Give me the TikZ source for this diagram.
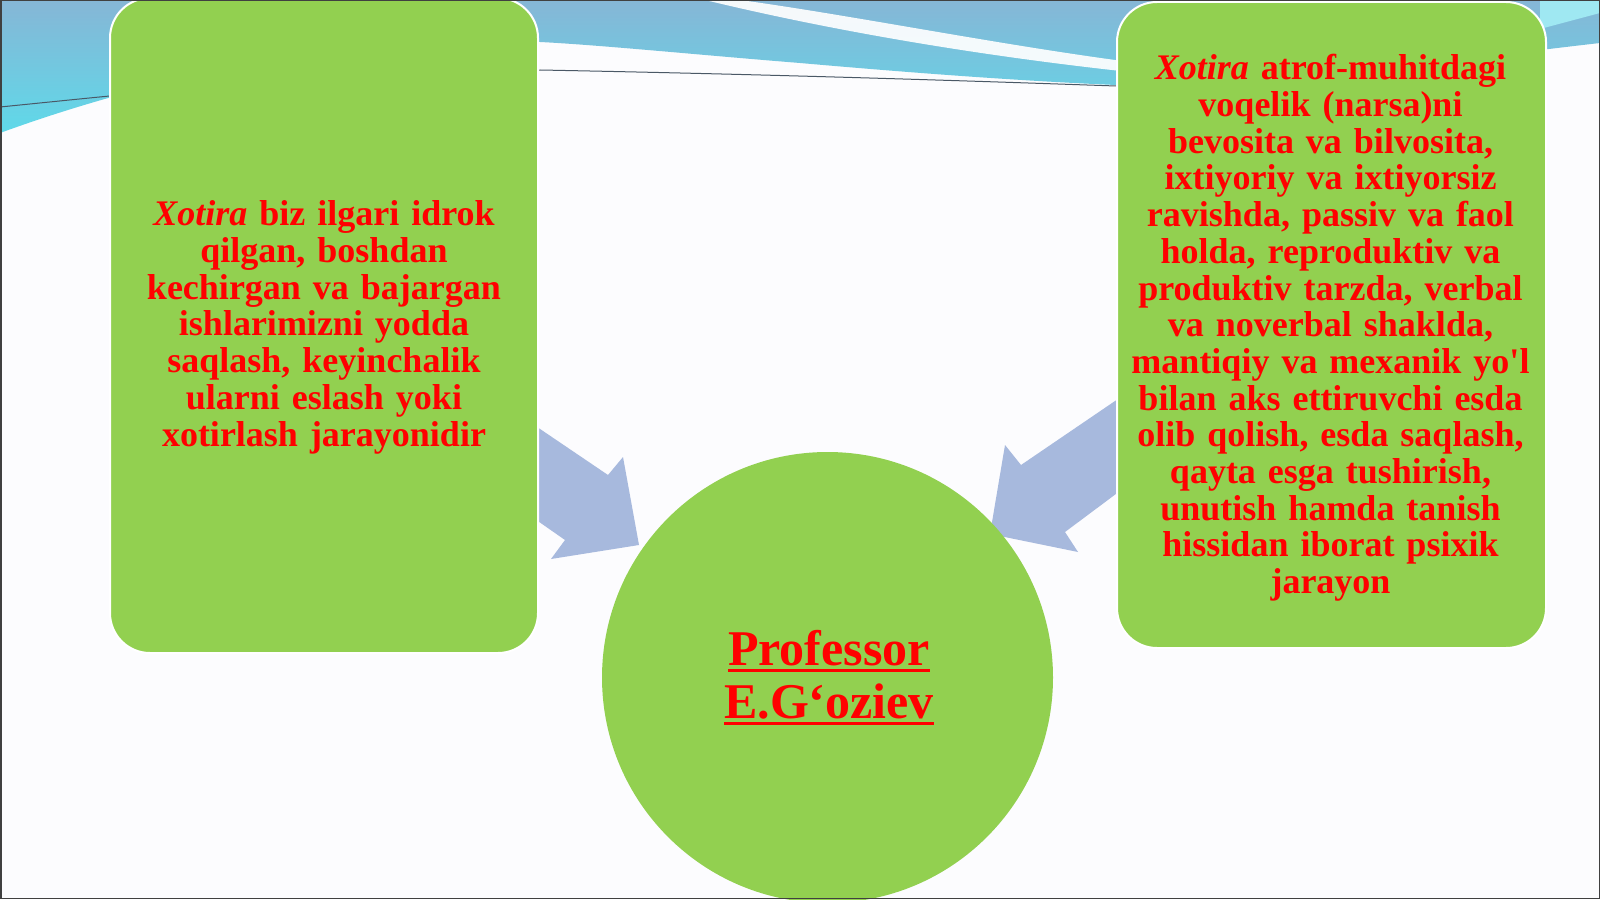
\documentclass[tikz,border=0pt]{standalone}
\usepackage{fontspec}
\setmainfont{Liberation Serif}
\definecolor{grn}{HTML}{92D050}
\definecolor{arrowblue}{HTML}{A7B9DD}
\definecolor{txtred}{HTML}{FF0000}
\definecolor{bgwhite}{HTML}{FCFCFE}
\definecolor{wavetop}{HTML}{86B6D6}
\definecolor{wavebot}{HTML}{5FD9E9}
\definecolor{darkline}{HTML}{4A5866}
\newcommand{\redul}[1]{\leavevmode\setbox0=\hbox{#1}\rlap{\rule[-6.5pt]{\wd0}{2.6pt}}\box0}
\tikzset{
  greenbox/.style={draw=white, line width=2pt, fill=grn, rounded corners=40pt, inner sep=0pt},
  bodytext/.style={text=txtred, font=\bfseries\fontsize{36}{36.7}\selectfont, align=center, text width=440pt, inner sep=0pt, anchor=north},
  blockarrow/.style={fill=arrowblue, draw=none},
}
\begin{document}
\begin{tikzpicture}[x=1pt,y=-1pt]
\useasboundingbox (0,0) rectangle (1600,899);
% background
\fill[bgwhite] (0,0) rectangle (1600,899);
% top wave
\shade[top color=wavetop, bottom color=wavebot]
  (0,0) -- (1600,0) -- (1600,43)
  .. controls (1450,60) and (1250,90) .. (1116,85)
  .. controls (1000,80) and (880,70) .. (800,63)
  .. controls (700,55) and (600,45) .. (540,42)
  .. controls (400,35) and (200,60) .. (0,133) -- cycle;
% light streak top right
\fill[white!40!wavebot] (1540,0) -- (1600,0) -- (1600,13) -- (1540,29) -- cycle;
% white streak
\fill[white, opacity=0.92] (740,0) .. controls (850,15) and (1000,45) .. (1130,62)
  -- (1130,72) .. controls (1000,58) and (850,35) .. (705,0) -- cycle;
% thin dark line
\draw[darkline, line width=1pt] (0,107) .. controls (150,92) and (350,70) .. (540,70)
  .. controls (800,75) and (1000,82) .. (1116,86);
% block arrows
\coordinate (la1) at (512,410);
\coordinate (la2) at (608,475);
\coordinate (la3) at (623,457);
\coordinate (la4) at (639,545);
\coordinate (la5) at (551,559);
\coordinate (la6) at (565,540);
\coordinate (la7) at (512,503);
\fill[blockarrow] (la1) -- (la2) -- (la3) -- (la4) -- (la5) -- (la6) -- (la7) -- cycle;
\coordinate (ra1) at (1140,384);
\coordinate (ra2) at (1021,465);
\coordinate (ra3) at (1005,445);
\coordinate (ra4) at (990,534);
\coordinate (ra5) at (1078,552);
\coordinate (ra6) at (1065,532);
\coordinate (ra7) at (1140,476);
\fill[blockarrow] (ra1) -- (ra2) -- (ra3) -- (ra4) -- (ra5) -- (ra6) -- (ra7) -- cycle;
% boxes
\node[greenbox, minimum width=428pt, minimum height=655pt] (L) at (324,325.5) {};
\node[greenbox, minimum width=429pt, minimum height=646pt] (R) at (1331.5,325) {};
% circle
\node[circle, fill=grn, minimum size=451pt, inner sep=0pt] (circ) at (827.5,677.5) {};
% texts
\node[bodytext] (Lt) at (324,200) {\strut\textit{Xotira} biz ilgari idrok\\
qilgan, boshdan\\
kechirgan va bajargan\\
ishlarimizni yodda\\
saqlash, keyinchalik\\
ularni eslash yoki\\
xotirlash jarayonidir};
\node[bodytext] (Rt) at (1330.5,54) {\strut\textit{Xotira} atrof-muhitdagi\\
voqelik (narsa)ni\\
bevosita va bilvosita,\\
ixtiyoriy va ixtiyorsiz\\
ravishda, passiv va faol\\
holda, reproduktiv va\\
produktiv tarzda, verbal\\
va noverbal shaklda,\\
mantiqiy va mexanik yo\textquotesingle l\\
bilan aks ettiruvchi esda\\
olib qolish, esda saqlash,\\
qayta esga tushirish,\\
unutish hamda tanish\\
hissidan iborat psixik\\
jarayon};
\node[text=txtred, font=\bfseries\fontsize{50}{53}\selectfont, align=center, text width=320pt, inner sep=0pt, anchor=north] (Ct) at (829,628) {\strut\redul{Professor}\\
\redul{E.G‘oziev}};
% frame
\draw[black!75, line width=1.5pt] (0.75,0.75) rectangle (1599.25,898.25);
\end{tikzpicture}
\end{document}
